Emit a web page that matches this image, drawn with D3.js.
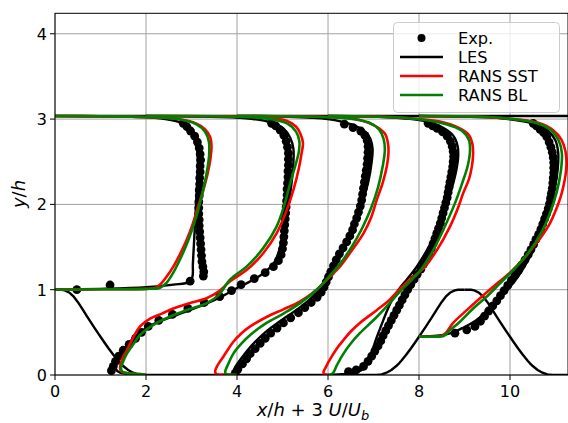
<!DOCTYPE html>
<html><head><meta charset="utf-8">
<script src="https://cdn.jsdelivr.net/npm/d3@7"></script>
<style>body{margin:0;background:#fff}svg{display:block;font-family:"DejaVu Sans",sans-serif}</style>
</head><body><svg id="chart" width="568" height="423"></svg>
<script>
// ---------- data (x axis = x/h + 3 U/U_b, y axis = y/h) ----------
const xTicks = [0, 2, 4, 6, 8, 10];
const yTicks = [0, 1, 2, 3, 4];
const xDomain = [0, 11.275];
const yDomain = [0, 4.24];
const topWallY = 3.036;
const hillPeriod = 9;
const hillX = [0,0.143,0.214,0.321,0.4,0.5,0.6,0.714,0.857,0.964,1.0,1.071,1.179,1.286,1.393,1.429,1.5,1.607,1.714,1.821,1.929];
const hillY = [1,0.999,0.992,0.964,0.925,0.857,0.776,0.679,0.561,0.476,0.448,0.393,0.311,0.234,0.164,0.143,0.105,0.059,0.0265,0.0067,0];
const legendLabels = ["Exp.", "LES", "RANS SST", "RANS BL"];

// x/h = 0
const exp0 = [[0.48,1.0],[1.21,1.055],[2.97,1.10],[3.26,1.16],[3.27,1.21],[3.25,1.27],[3.23,1.33],[3.22,1.40],[3.21,1.47],[3.2,1.54],[3.19,1.61],[3.18,1.68],[3.17,1.75],[3.17,1.82],[3.16,1.89],[3.16,1.96],[3.16,2.03],[3.17,2.10],[3.17,2.17],[3.18,2.24],[3.18,2.31],[3.19,2.38],[3.19,2.45],[3.2,2.52],[3.19,2.59],[3.17,2.66],[3.13,2.73],[3.07,2.80],[2.98,2.86],[2.9,2.91],[2.82,2.95]];
const les0 = [[0,1.0],[1.0,1.01],[2.0,1.03],[2.6,1.06],[2.95,1.09],[3.02,1.15],[3.03,1.3],[3.05,1.5],[3.07,1.7],[3.09,1.9],[3.11,2.1],[3.13,2.3],[3.14,2.5],[3.12,2.65],[3.06,2.78],[2.95,2.88],[2.75,2.96],[2.3,3.01],[1.5,3.03],[0,3.036]];
const sst0 = [[0,1.0],[1.0,1.005],[2.0,1.01],[2.2,1.02],[2.31,1.06],[2.45,1.15],[2.6,1.27],[2.75,1.42],[2.89,1.58],[3.02,1.76],[3.13,1.95],[3.25,2.15],[3.35,2.35],[3.42,2.55],[3.44,2.68],[3.41,2.79],[3.3,2.88],[3.1,2.95],[2.7,3.0],[2.0,3.025],[1.0,3.033],[0,3.036]];
const bl0 = [[0,1.0],[1.0,1.005],[2.0,1.01],[2.3,1.02],[2.45,1.08],[2.6,1.2],[2.77,1.38],[2.93,1.58],[3.06,1.78],[3.17,1.98],[3.27,2.2],[3.35,2.42],[3.39,2.6],[3.38,2.74],[3.3,2.85],[3.1,2.94],[2.7,3.0],[2.0,3.025],[1.0,3.033],[0,3.036]];

// x/h = 2
const exp2 = [[1.24,0.05],[1.28,0.1],[1.33,0.16],[1.40,0.22],[1.50,0.29],[1.63,0.36],[1.77,0.43],[1.90,0.50],[2.05,0.57],[2.28,0.64],[2.58,0.71],[2.92,0.78],[3.28,0.85],[3.62,0.92],[3.88,0.99],[4.09,1.06],[4.38,1.13],[4.62,1.2],[4.8,1.27],[4.91,1.34],[4.97,1.41],[5.0,1.48],[5.02,1.55],[5.03,1.62],[5.04,1.69],[5.05,1.76],[5.06,1.83],[5.07,1.90],[5.08,1.97],[5.09,2.04],[5.1,2.11],[5.1,2.18],[5.11,2.25],[5.12,2.32],[5.12,2.39],[5.13,2.46],[5.13,2.53],[5.13,2.6],[5.11,2.67],[5.08,2.74],[5.03,2.81],[4.95,2.87],[4.85,2.92],[4.76,2.95]];
const les2 = [[2,0],[1.7,0.01],[1.42,0.03],[1.34,0.07],[1.36,0.15],[1.45,0.24],[1.6,0.36],[1.8,0.47],[2.1,0.58],[2.5,0.67],[2.9,0.75],[3.3,0.83],[3.7,0.93],[4.0,1.02],[4.3,1.1],[4.6,1.2],[4.82,1.32],[4.95,1.5],[5.02,1.7],[5.08,1.9],[5.16,2.1],[5.21,2.3],[5.24,2.5],[5.24,2.65],[5.17,2.78],[5.02,2.89],[4.75,2.96],[4.2,3.01],[3.2,3.03],[2,3.036]];
const sst2 = [[2,0],[1.85,0.01],[1.6,0.02],[1.46,0.04],[1.43,0.08],[1.47,0.18],[1.58,0.29],[1.72,0.44],[1.87,0.57],[2.09,0.66],[2.35,0.72],[2.6,0.78],[2.95,0.84],[3.33,0.9],[3.6,0.98],[3.85,1.1],[4.21,1.23],[4.58,1.43],[4.87,1.66],[5.09,1.93],[5.24,2.17],[5.35,2.4],[5.42,2.6],[5.45,2.72],[5.4,2.82],[5.3,2.91],[5.09,2.98],[4.6,3.02],[3.5,3.033],[2,3.036]];
const bl2 = [[2,0],[1.85,0.01],[1.6,0.02],[1.48,0.04],[1.45,0.08],[1.5,0.16],[1.58,0.25],[1.72,0.36],[1.87,0.47],[2.2,0.6],[2.6,0.7],[3.0,0.78],[3.33,0.84],[3.6,0.94],[3.85,1.12],[4.21,1.27],[4.58,1.49],[4.87,1.74],[5.05,2.01],[5.16,2.23],[5.28,2.45],[5.36,2.62],[5.37,2.74],[5.3,2.85],[5.1,2.95],[4.6,3.01],[3.5,3.033],[2,3.036]];

// x/h = 4
const exp4 = [[3.96,0.02],[4.02,0.07],[4.12,0.13],[4.21,0.19],[4.29,0.25],[4.4,0.31],[4.51,0.37],[4.62,0.43],[4.74,0.49],[4.88,0.55],[5.02,0.61],[5.18,0.67],[5.35,0.73],[5.49,0.79],[5.63,0.85],[5.76,0.91],[5.85,0.97],[5.91,1.03],[5.96,1.09],[6.01,1.15],[6.06,1.21],[6.12,1.28],[6.18,1.35],[6.25,1.42],[6.33,1.49],[6.41,1.56],[6.48,1.63],[6.54,1.7],[6.58,1.77],[6.63,1.84],[6.67,1.91],[6.71,1.98],[6.74,2.05],[6.76,2.12],[6.78,2.19],[6.8,2.26],[6.82,2.33],[6.84,2.4],[6.86,2.47],[6.87,2.54],[6.88,2.61],[6.88,2.68],[6.86,2.75],[6.81,2.81],[6.72,2.86],[6.55,2.9],[6.36,2.94]];
const les4 = [[4,0],[3.95,0.01],[3.92,0.04],[3.97,0.1],[4.1,0.2],[4.33,0.35],[4.62,0.5],[4.97,0.64],[5.33,0.77],[5.63,0.9],[5.88,1.05],[6.1,1.22],[6.33,1.45],[6.56,1.72],[6.74,2.0],[6.88,2.25],[6.96,2.5],[6.98,2.65],[6.93,2.77],[6.8,2.86],[6.5,2.94],[6.0,3.0],[5.0,3.03],[4,3.036]];
const sst4 = [[4,0],[3.75,0.005],[3.55,0.01],[3.52,0.04],[3.58,0.12],[3.7,0.215],[3.92,0.39],[4.1,0.49],[4.29,0.57],[4.65,0.68],[5.02,0.77],[5.38,0.86],[5.75,1.0],[6.0,1.13],[6.26,1.27],[6.55,1.48],[6.78,1.66],[6.95,1.85],[7.07,2.05],[7.2,2.25],[7.29,2.44],[7.33,2.62],[7.31,2.74],[7.25,2.83],[7.07,2.91],[6.7,2.99],[6.0,3.025],[5.0,3.034],[4,3.036]];
const bl4 = [[4,0],[3.85,0.005],[3.76,0.01],[3.74,0.04],[3.8,0.12],[3.92,0.25],[4.1,0.37],[4.29,0.47],[4.65,0.61],[5.02,0.72],[5.38,0.84],[5.75,1.0],[6.0,1.14],[6.26,1.3],[6.52,1.5],[6.75,1.72],[6.95,1.96],[7.1,2.2],[7.2,2.44],[7.25,2.64],[7.22,2.77],[7.12,2.88],[6.9,2.96],[6.4,3.01],[5.0,3.033],[4,3.036]];

// x/h = 6
const exp6 = [[6.45,0.04],[6.62,0.06],[6.78,0.1],[6.88,0.16],[6.96,0.22],[7.03,0.28],[7.1,0.34],[7.16,0.4],[7.21,0.46],[7.27,0.52],[7.33,0.58],[7.39,0.64],[7.45,0.7],[7.51,0.76],[7.57,0.82],[7.63,0.88],[7.69,0.94],[7.75,1.0],[7.82,1.06],[7.89,1.12],[7.96,1.18],[8.04,1.24],[8.1,1.3],[8.17,1.36],[8.22,1.42],[8.27,1.48],[8.31,1.54],[8.35,1.6],[8.39,1.66],[8.43,1.72],[8.47,1.78],[8.5,1.84],[8.53,1.9],[8.56,1.96],[8.59,2.02],[8.62,2.08],[8.64,2.14],[8.66,2.2],[8.68,2.26],[8.7,2.32],[8.72,2.38],[8.74,2.44],[8.75,2.5],[8.76,2.56],[8.75,2.62],[8.73,2.68],[8.69,2.74],[8.62,2.8],[8.52,2.85],[8.4,2.89],[8.3,2.92],[8.2,2.95]];
const les6 = [[6,0],[6.3,0.01],[6.6,0.03],[6.8,0.08],[6.9,0.18],[6.98,0.3],[7.07,0.44],[7.17,0.58],[7.28,0.73],[7.4,0.87],[7.55,1.0],[7.75,1.13],[7.95,1.27],[8.15,1.44],[8.35,1.64],[8.52,1.87],[8.67,2.1],[8.8,2.35],[8.86,2.55],[8.85,2.68],[8.76,2.8],[8.52,2.9],[8.1,2.98],[7.2,3.025],[6,3.036]];
const sst6 = [[6,0],[5.92,0.01],[5.9,0.03],[5.95,0.09],[6.04,0.18],[6.18,0.3],[6.34,0.41],[6.5,0.51],[6.7,0.61],[7.07,0.76],[7.35,0.88],[7.6,1.02],[7.85,1.14],[8.1,1.25],[8.4,1.47],[8.68,1.74],[8.85,1.95],[8.97,2.13],[9.1,2.3],[9.16,2.44],[9.19,2.6],[9.17,2.72],[9.1,2.81],[8.9,2.89],[8.46,2.97],[7.5,3.02],[6,3.036]];
const bl6 = [[6,0],[6.08,0.01],[6.12,0.03],[6.2,0.12],[6.34,0.25],[6.5,0.37],[6.7,0.49],[7.07,0.68],[7.35,0.84],[7.6,0.99],[7.85,1.12],[8.05,1.24],[8.3,1.45],[8.55,1.72],[8.78,2.0],[8.95,2.25],[9.07,2.45],[9.12,2.62],[9.1,2.75],[8.95,2.86],[8.6,2.94],[7.8,3.01],[6,3.036]];

// x/h = 8
const exp8 = [[8.79,0.49],[9.05,0.53],[9.23,0.57],[9.35,0.63],[9.44,0.69],[9.53,0.75],[9.62,0.81],[9.71,0.87],[9.79,0.93],[9.87,0.99],[9.95,1.05],[10.03,1.11],[10.11,1.17],[10.19,1.23],[10.26,1.29],[10.33,1.35],[10.4,1.41],[10.46,1.47],[10.52,1.53],[10.57,1.59],[10.63,1.65],[10.68,1.71],[10.72,1.77],[10.76,1.83],[10.8,1.89],[10.84,1.95],[10.87,2.01],[10.89,2.07],[10.91,2.13],[10.93,2.19],[10.94,2.25],[10.95,2.31],[10.96,2.37],[10.96,2.43],[10.96,2.49],[10.95,2.55],[10.93,2.61],[10.9,2.67],[10.86,2.73],[10.81,2.79],[10.74,2.84],[10.66,2.88],[10.58,2.92],[10.51,2.95]];
const les8 = [[8,0.45],[8.4,0.46],[8.7,0.49],[8.95,0.55],[9.2,0.62],[9.45,0.73],[9.7,0.86],[9.95,1.0],[10.2,1.17],[10.45,1.4],[10.66,1.65],[10.84,1.92],[10.98,2.18],[11.05,2.42],[11.06,2.6],[11.0,2.75],[10.84,2.86],[10.57,2.94],[9.8,3.01],[8.5,3.032],[8,3.036]];
const sst8 = [[8,0.45],[8.3,0.45],[8.5,0.46],[8.6,0.5],[8.75,0.61],[9.05,0.76],[9.34,0.9],[9.63,1.035],[10.0,1.2],[10.3,1.36],[10.51,1.5],[10.7,1.63],[10.88,1.78],[11.02,1.95],[11.12,2.1],[11.2,2.28],[11.24,2.45],[11.22,2.62],[11.13,2.76],[10.95,2.87],[10.6,2.96],[9.6,3.02],[8,3.036]];
const bl8 = [[8,0.45],[8.3,0.45],[8.55,0.46],[8.65,0.51],[8.9,0.625],[9.19,0.78],[9.49,0.92],[9.78,1.075],[10.07,1.23],[10.4,1.43],[10.68,1.66],[10.88,1.9],[11.03,2.15],[11.12,2.4],[11.14,2.6],[11.07,2.75],[10.9,2.87],[10.6,2.95],[9.8,3.015],[8,3.036]];

const expSeries = [exp0, exp2, exp4, exp6, exp8];
const lesSeries = [les0, les2, les4, les6, les8];
const sstSeries = [sst0, sst2, sst4, sst6, sst8];
const blSeries  = [bl0, bl2, bl4, bl6, bl8];

// ---------- layout ----------
const M = {left: 55, top: 13.3, bottom: 375};
const svg = d3.select("#chart");
const x = d3.scaleLinear().domain(xDomain).range([M.left, M.left + (xDomain[1]-xDomain[0])*45.5]);
const y = d3.scaleLinear().domain(yDomain).range([M.bottom, M.top]);

svg.append("defs").append("clipPath").attr("id","clip")
  .append("rect").attr("x", M.left).attr("y", M.top)
  .attr("width", x(xDomain[1]) - M.left).attr("height", M.bottom - M.top);

// grid
const grid = svg.append("g");
xTicks.forEach(t => grid.append("line").attr("x1", x(t)).attr("x2", x(t)).attr("y1", M.top).attr("y2", M.bottom)
  .attr("stroke", "#a0a0a0").attr("stroke-width", 1));
yTicks.forEach(t => grid.append("line").attr("y1", y(t)).attr("y2", y(t)).attr("x1", M.left).attr("x2", x(xDomain[1]))
  .attr("stroke", "#a0a0a0").attr("stroke-width", 1));

const plot = svg.append("g").attr("clip-path", "url(#clip)");
const line = d3.line().x(d => x(d[0])).y(d => y(d[1])).curve(d3.curveCatmullRom.alpha(0.5));
const lineLin = d3.line().x(d => x(d[0])).y(d => y(d[1]));

// experiment dots
expSeries.forEach(s => {
  plot.append("g").selectAll("circle").data(s).join("circle")
    .attr("cx", d => x(d[0])).attr("cy", d => y(d[1])).attr("r", 4.4).attr("fill", "#000");
});

// LES
lesSeries.forEach(s => plot.append("path").attr("d", line(s)).attr("fill", "none")
  .attr("stroke", "#000").attr("stroke-width", 2.4).attr("stroke-linejoin", "round"));

// walls (hill geometry repeated periodically)
const wallA = hillX.map((v,i) => [v, hillY[i]])
  .concat(hillX.slice().reverse().map((v,i) => [hillPeriod - v, hillY[hillX.length-1-i]]));
const wallB = hillX.map((v,i) => [hillPeriod + v, hillY[i]]).concat([[xDomain[1] + 1, 0]]);
[wallA, wallB].forEach(w => plot.append("path").attr("d", lineLin(w)).attr("fill","none")
  .attr("stroke","#000").attr("stroke-width",2.4).attr("stroke-linejoin","round"));
plot.append("path").attr("d", lineLin([[0, topWallY], [xDomain[1] + 1, topWallY]]))
  .attr("stroke", "#000").attr("stroke-width", 2.4);

// RANS
sstSeries.forEach(s => plot.append("path").attr("d", line(s)).attr("fill", "none")
  .attr("stroke", "#ff0000").attr("stroke-width", 2.6).attr("stroke-linejoin", "round"));
blSeries.forEach(s => plot.append("path").attr("d", line(s)).attr("fill", "none")
  .attr("stroke", "#008000").attr("stroke-width", 2.6).attr("stroke-linejoin", "round"));

// spines
const ax = svg.append("g");
ax.append("rect").attr("x", M.left).attr("y", M.top).attr("width", x(xDomain[1]) - M.left)
  .attr("height", M.bottom - M.top).attr("fill", "none").attr("stroke", "#000").attr("stroke-width", 1);

// ticks + labels
xTicks.forEach(t => {
  ax.append("line").attr("x1", x(t)).attr("x2", x(t)).attr("y1", M.bottom).attr("y2", M.bottom + 5).attr("stroke", "#000");
  ax.append("text").attr("x", x(t)).attr("y", M.bottom + 22).attr("text-anchor", "middle")
    .attr("font-size", 16).attr("fill", "#000").text(t);
});
yTicks.forEach(t => {
  ax.append("line").attr("x1", M.left - 5).attr("x2", M.left).attr("y1", y(t)).attr("y2", y(t)).attr("stroke", "#000");
  ax.append("text").attr("x", M.left - 8).attr("y", y(t) + 6).attr("text-anchor", "end")
    .attr("font-size", 16).attr("fill", "#000").text(t);
});

// axis labels
const xl = svg.append("text").attr("x", 313).attr("y", 416).attr("text-anchor", "middle").attr("font-size", 18).attr("fill", "#000");
xl.append("tspan").attr("font-style", "italic").text("x");
xl.append("tspan").text("/");
xl.append("tspan").attr("font-style", "italic").text("h");
xl.append("tspan").text(" + 3 ");
xl.append("tspan").attr("font-style", "italic").text("U");
xl.append("tspan").text("/");
xl.append("tspan").attr("font-style", "italic").text("U");
xl.append("tspan").attr("font-style", "italic").attr("font-size", 13).attr("dy", 4).text("b");

const yl = svg.append("text").attr("transform", "translate(25,194) rotate(-90)").attr("text-anchor", "middle")
  .attr("font-size", 18).attr("fill", "#000");
yl.append("tspan").attr("font-style", "italic").text("y");
yl.append("tspan").text("/");
yl.append("tspan").attr("font-style", "italic").text("h");

// legend
const lg = svg.append("g");
lg.append("rect").attr("x", 393.5).attr("y", 22.5).attr("width", 166).attr("height", 90).attr("rx", 4)
  .attr("fill", "#fff").attr("fill-opacity", 0.8).attr("stroke", "#cccccc").attr("stroke-width", 1);
const legColors = [null, "#000", "#ff0000", "#008000"];
legendLabels.forEach((lab, i) => {
  const cy = 38 + i * 19;
  if (i === 0) {
    lg.append("circle").attr("cx", 421.5).attr("cy", cy).attr("r", 4).attr("fill", "#000");
  } else {
    lg.append("line").attr("x1", 400).attr("x2", 443).attr("y1", cy).attr("y2", cy)
      .attr("stroke", legColors[i]).attr("stroke-width", 2.6);
  }
  lg.append("text").attr("x", 458).attr("y", cy + 5.8).attr("font-size", 16.2).attr("fill", "#000").text(lab);
});
</script></body></html>
